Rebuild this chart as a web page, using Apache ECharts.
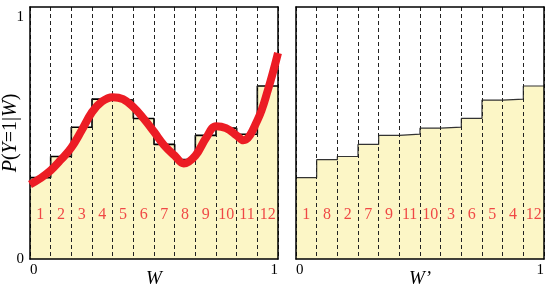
<!DOCTYPE html>
<html>
<head>
<meta charset="utf-8">
<script src="https://cdn.jsdelivr.net/npm/echarts@6/dist/echarts.min.js"></script>
<style>
  html, body { margin: 0; padding: 0; background: #fff; }
  #chart { width: 550px; height: 290px; }
</style>
</head>
<body>
<div id="chart"></div>
<script>
// bin numbers and step heights in W order
const bins = ['1', '2', '3', '4', '5', '6', '7', '8', '9', '10', '11', '12'];
const binP = [0.336, 0.423, 0.544, 0.66, 0.656, 0.58, 0.473, 0.41, 0.51, 0.54, 0.515, 0.714];
// order of bins after sorting by height (W')
const sortedBins = ['1', '8', '2', '7', '9', '11', '10', '3', '6', '5', '4', '12'];
// the smooth curve P(Y=1|W)
const curveW = [0, 0.042, 0.083, 0.125, 0.167, 0.208, 0.25, 0.29, 0.333, 0.375, 0.417, 0.458, 0.5, 0.54, 0.583, 0.62, 0.667, 0.71, 0.75, 0.79, 0.833, 0.86, 0.917, 0.96, 1];
const curveP = [0.307, 0.333, 0.365, 0.41, 0.46, 0.53, 0.606, 0.65, 0.668, 0.66, 0.627, 0.58, 0.525, 0.47, 0.427, 0.394, 0.427, 0.5, 0.548, 0.54, 0.51, 0.49, 0.573, 0.7, 0.85];

const serif = 'Liberation Serif';
const yellow = '#fcf6c6';
const red = '#ec1c24';

const sortedP = sortedBins.map(b => binP[bins.indexOf(b)]);
const stepData = vals => vals.map((v, i) => [i, v]).concat([[vals.length, vals[vals.length - 1]]]);
const labelData = names => names.map((b, i) => [i + 0.5, 0.183, b]);

const grids = [
  { left: 30, top: 7, width: 248, height: 252, outerBoundsMode: 'none', containLabel: false },
  { left: 296, top: 7, width: 248, height: 252, outerBoundsMode: 'none', containLabel: false }
];

const border = { show: true, onZero: false, lineStyle: { color: '#000', width: 1.5 } };

function xAxes(gi, name) {
  return [
    {
      type: 'value', gridIndex: gi, min: 0, max: 12, interval: 1, z: 5,
      name: name, nameLocation: 'middle', nameGap: 10, nameMoveOverlap: false,
      nameTextStyle: { fontFamily: serif, fontStyle: 'italic', fontSize: 19, color: '#000', verticalAlign: 'top' },
      axisLine: border,
      axisTick: { show: false },
      axisLabel: {
        customValues: [0, 12], formatter: v => String(v / 12),
        fontFamily: serif, fontSize: 15, color: '#000', margin: 4,
        alignMinLabel: 'left', alignMaxLabel: 'right'
      },
      splitLine: { show: true, lineStyle: { color: '#222', width: 1, type: [4, 3] } }
    },
    {
      type: 'value', gridIndex: gi, position: 'top', min: 0, max: 12, z: 5,
      axisLine: border,
      axisTick: { show: false }, axisLabel: { show: false }, splitLine: { show: false }
    }
  ];
}

function yAxes(gi, withLabels) {
  return [
    {
      type: 'value', gridIndex: gi, min: 0, max: 1.04, z: 5,
      name: withLabels ? '{i|P}{n|(}{i|Y}{n|=1|}{i|W}{n|)}' : '',
      nameLocation: 'middle', nameGap: 9, nameMoveOverlap: false,
      nameTextStyle: {
        fontFamily: serif, fontSize: 20, color: '#000',
        rich: {
          i: { fontFamily: serif, fontStyle: 'italic', fontSize: 20, color: '#000' },
          n: { fontFamily: serif, fontSize: 20, color: '#000' }
        }
      },
      axisLine: border,
      axisTick: { show: false },
      axisLabel: {
        show: withLabels, customValues: [0, 1],
        fontFamily: serif, fontSize: 15, color: '#000', margin: 6
      },
      splitLine: { show: false }
    },
    {
      type: 'value', gridIndex: gi, position: 'right', min: 0, max: 1.04, z: 5,
      axisLine: border,
      axisTick: { show: false }, axisLabel: { show: false }, splitLine: { show: false }
    }
  ];
}

const xAxis = xAxes(0, 'W').concat(xAxes(1, 'W\u2019'));
const yAxis = yAxes(0, true).concat(yAxes(1, false));

function stepSeries(ax, ay, vals, lineColor, lineWidth) {
  return {
    type: 'line', xAxisIndex: ax, yAxisIndex: ay, step: 'end', symbol: 'none',
    data: stepData(vals), z: 2,
    lineStyle: { color: lineColor, width: lineWidth },
    areaStyle: { color: yellow, opacity: 1 }
  };
}

function labelSeries(ax, ay, names) {
  return {
    type: 'scatter', xAxisIndex: ax, yAxisIndex: ay, symbolSize: 1, z: 8,
    itemStyle: { color: 'transparent' },
    data: labelData(names),
    label: {
      show: true, position: 'inside', formatter: p => p.data[2],
      fontFamily: serif, fontSize: 16, color: red
    }
  };
}

const option = {
  animation: false,
  grid: grids,
  xAxis: xAxis,
  yAxis: yAxis,
  series: [
    stepSeries(0, 0, binP, '#000', 1.6),
    labelSeries(0, 0, bins),
    {
      type: 'line', xAxisIndex: 0, yAxisIndex: 0, smooth: 0.4, symbol: 'none', z: 10, clip: false,
      data: curveW.map((w, i) => [w * 12, curveP[i]]),
      lineStyle: { color: red, width: 8 }
    },
    stepSeries(2, 2, sortedP, '#333', 1.2),
    labelSeries(2, 2, sortedBins)
  ]
};

const chart = echarts.init(document.getElementById('chart'));
chart.setOption(option);
window.addEventListener('resize', () => chart.resize());
</script>
</body>
</html>
